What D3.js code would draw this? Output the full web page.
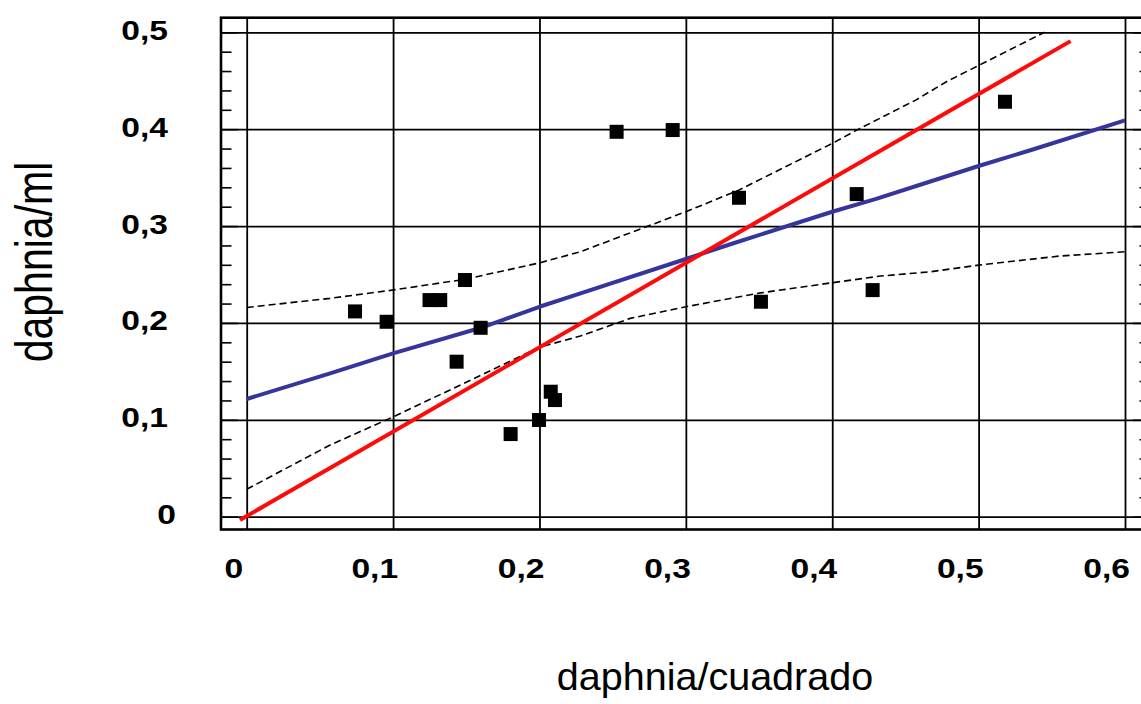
<!DOCTYPE html>
<html>
<head>
<meta charset="utf-8">
<script src="https://cdn.jsdelivr.net/npm/d3@7"></script>
<style>
  html, body { margin: 0; padding: 0; background: #fff; }
  svg { display: block; }
</style>
</head>
<body>
<svg id="chart" width="1141" height="704"></svg>
<script>
// ---- data ----
const pointsX = [0.0740, 0.0956, 0.1249, 0.1322, 0.1491, 0.1434, 0.1598, 0.1803, 0.1997,
                 0.2077, 0.2106, 0.2527, 0.2910, 0.3363, 0.3513, 0.4167, 0.4276, 0.5180];
const pointsY = [0.2119, 0.2012, 0.2236, 0.2236, 0.2443, 0.1600, 0.1950, 0.0853, 0.0998,
                 0.1290, 0.1204, 0.3973, 0.3991, 0.3292, 0.2219, 0.3330, 0.2339, 0.4283];

const redX = [-0.0046, 0.5628];
const redY = [-0.0034, 0.4909];

const blueX = [0, 0.057, 0.1, 0.16, 0.2, 0.228, 0.3, 0.332, 0.4, 0.43, 0.467, 0.5, 0.537, 0.6];
const blueY = [0.1215, 0.148, 0.1686, 0.195, 0.2167, 0.2305, 0.266, 0.282, 0.3148, 0.328, 0.346, 0.362, 0.379, 0.409];

const upperX = [0, 0.057, 0.1, 0.149, 0.2, 0.228, 0.3, 0.336, 0.4, 0.419, 0.457, 0.478, 0.545];
const upperY = [0.216, 0.2254, 0.234, 0.245, 0.262, 0.2735, 0.3148, 0.337, 0.3853, 0.4008, 0.430, 0.449, 0.50];

const lowerX = [0, 0.057, 0.1, 0.16, 0.2, 0.228, 0.262, 0.3, 0.351, 0.4, 0.433, 0.467, 0.5, 0.555, 0.6];
const lowerY = [0.0283, 0.074, 0.103, 0.146, 0.175, 0.1865, 0.2047, 0.2167, 0.231, 0.2415, 0.2484, 0.2528, 0.2597, 0.269, 0.2735];

const xTicks = [0, 0.1, 0.2, 0.3, 0.4, 0.5, 0.6];
const xTickLabels = ["0", "0,1", "0,2", "0,3", "0,4", "0,5", "0,6"];
const yTicks = [0, 0.1, 0.2, 0.3, 0.4, 0.5];
const yTickLabels = ["0", "0,1", "0,2", "0,3", "0,4", "0,5"];
const yMinorTicks = d3.range(0, 25).map(i => +(i * 0.02).toFixed(2)).filter(v => Math.abs(v * 10 - Math.round(v * 10)) > 1e-6);

const xTitle = "daphnia/cuadrado";
const yTitle = "daphnia/ml";

// ---- layout ----
const frame = { left: 221, right: 1150, top: 17.7, bottom: 529.5 };
const x = d3.scaleLinear().domain([0, 0.6]).range([246.7, 1125]);
const y = d3.scaleLinear().domain([0, 0.5]).range([516.7, 32.3]);

const svg = d3.select("#chart");
const labelFont = "'Liberation Sans', Arial, Helvetica, sans-serif";

// grid lines
svg.append("g")
  .attr("transform", `translate(0,${frame.bottom})`)
  .call(d3.axisBottom(x).tickValues(xTicks).tickSize(-(frame.bottom - frame.top)).tickFormat(""))
  .call(g => g.select(".domain").remove())
  .call(g => g.selectAll("line").attr("stroke", "#000").attr("stroke-width", 1.8));

svg.append("g")
  .attr("transform", `translate(${frame.left},0)`)
  .call(d3.axisLeft(y).tickValues(yTicks).tickSize(-(frame.right - frame.left)).tickFormat(""))
  .call(g => g.select(".domain").remove())
  .call(g => g.selectAll("line").attr("stroke", "#000").attr("stroke-width", 1.8));

// minor / major inward ticks, left and right
function inwardTicks(axisFn, pos, values, len) {
  svg.append("g")
    .attr("transform", `translate(${pos},0)`)
    .call(axisFn(y).tickValues(values).tickSize(-len).tickFormat(""))
    .call(g => g.select(".domain").remove())
    .call(g => g.selectAll("line").attr("stroke", "#000").attr("stroke-width", 1.6));
}
inwardTicks(d3.axisLeft, frame.left, yMinorTicks, 10.5);
inwardTicks(d3.axisLeft, frame.left, yTicks, 17);
inwardTicks(d3.axisRight, frame.right, yMinorTicks, 10.5);
inwardTicks(d3.axisRight, frame.right, yTicks, 17);

// frame
svg.append("rect")
  .attr("x", frame.left).attr("y", frame.top)
  .attr("width", frame.right - frame.left).attr("height", frame.bottom - frame.top)
  .attr("fill", "none").attr("stroke", "#000").attr("stroke-width", 2.6);

// tick labels
svg.append("g")
  .attr("transform", `translate(168,0)`)
  .call(d3.axisLeft(y).tickValues(yTicks).tickSize(0).tickPadding(0)
        .tickFormat((d, i) => yTickLabels[i]))
  .call(g => g.select(".domain").remove())
  .call(g => g.selectAll("text")
    .attr("x", 0).attr("dy", null).attr("y", 7)
    .attr("text-anchor", "end")
    .attr("fill", "#000")
    .style("font-family", labelFont).style("font-weight", "bold").style("font-size", "28px")
    .attr("transform", d => `translate(${d === 0 ? 8 : 0},0) scale(1.2,1)`));

svg.append("g")
  .attr("transform", `translate(0,577.5)`)
  .call(d3.axisBottom(x).tickValues(xTicks).tickSize(0).tickPadding(0)
        .tickFormat((d, i) => xTickLabels[i]))
  .call(g => g.select(".domain").remove())
  .call(g => g.selectAll("text")
    .attr("y", 0).attr("dy", null)
    .attr("text-anchor", "end")
    .attr("fill", "#000")
    .style("font-family", labelFont).style("font-weight", "bold").style("font-size", "28px")
    .attr("transform", d => `translate(${d === 0 ? -4 : 4.5},0) scale(1.2,1)`));

// axis titles
svg.append("text")
  .attr("x", 715).attr("y", 690)
  .attr("text-anchor", "middle")
  .style("font-family", labelFont).style("font-size", "39.5px")
  .attr("fill", "#000")
  .text(xTitle);

svg.append("text")
  .attr("transform", "translate(51.5,262) rotate(-90) scale(1,1.27)")
  .attr("text-anchor", "middle")
  .style("font-family", labelFont).style("font-size", "41px")
  .attr("fill", "#000")
  .text(yTitle);

// lines
const line = d3.line().x(d => x(d[0])).y(d => y(d[1]));
const zip = (a, b) => a.map((v, i) => [v, b[i]]);

svg.append("path").datum(zip(upperX, upperY))
  .attr("d", line).attr("fill", "none").attr("stroke", "#000")
  .attr("stroke-width", 1.6).attr("stroke-dasharray", "7,4");
svg.append("path").datum(zip(lowerX, lowerY))
  .attr("d", line).attr("fill", "none").attr("stroke", "#000")
  .attr("stroke-width", 1.6).attr("stroke-dasharray", "7,4");

svg.append("path").datum(zip(blueX, blueY))
  .attr("d", line).attr("fill", "none").attr("stroke", "#35359c")
  .attr("stroke-width", 4).attr("stroke-linejoin", "round");

svg.append("path").datum(zip(redX, redY))
  .attr("d", line).attr("fill", "none").attr("stroke", "#ff0a0a")
  .attr("stroke-width", 4);

// points
const sq = 14;
svg.append("g").selectAll("rect")
  .data(zip(pointsX, pointsY))
  .join("rect")
  .attr("x", d => x(d[0]) - sq / 2)
  .attr("y", d => y(d[1]) - sq / 2)
  .attr("width", sq).attr("height", sq)
  .attr("fill", "#000");
</script>
</body>
</html>
